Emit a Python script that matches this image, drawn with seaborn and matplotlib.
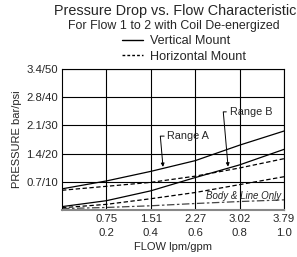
import matplotlib
matplotlib.use("Agg")
import matplotlib.pyplot as plt
import seaborn as sns
import pandas as pd
from matplotlib.lines import Line2D

sns.set_theme(style="white")
plt.rcParams['font.family'] = ['Liberation Sans', 'DejaVu Sans']

# Data (flow in gpm, pressure in psi)
flow_gpm = [0.0, 0.2, 0.4, 0.6, 0.8, 1.0]
vertical_range_a = [7.5, 10.3, 13.7, 17.5, 23.0, 28.0]
vertical_range_b = [1.2, 3.3, 6.8, 11.5, 16.0, 21.5]
horizontal_range_a = [7.0, 8.4, 9.8, 12.0, 14.9, 18.2]
horizontal_range_b = [0.8, 2.0, 4.0, 6.2, 9.0, 11.8]
body_line_only = [0.5, 0.9, 1.5, 2.3, 3.0, 3.6]

x_ticks = [0.2, 0.4, 0.6, 0.8, 1.0]
x_tick_labels = ["0.75\n0.2", "1.51\n0.4", "2.27\n0.6", "3.02\n0.8", "3.79\n1.0"]
y_ticks = [10, 20, 30, 40, 50]
y_tick_labels = ["0.7/10", "1.4/20", "2.1/30", "2.8/40", "3.4/50"]

fig = plt.figure(figsize=(2.97, 2.57), dpi=100)
ax = fig.add_axes([62/297, 1-210/257, 222/297, 141/257])

dash = (0, (3.5, 2))
series = [
    (vertical_range_a, '-', 'black', 0.9),
    (vertical_range_b, '-', 'black', 0.9),
    (horizontal_range_a, dash, 'black', 0.9),
    (horizontal_range_b, dash, 'black', 0.9),
    (body_line_only, (0, (6, 2, 2, 2)), '#444444', 0.9),
]
for vals, ls, col, lw in series:
    df = pd.DataFrame({"flow": flow_gpm, "p": vals})
    sns.lineplot(data=df, x="flow", y="p", ax=ax, color=col, linestyle=ls, lw=lw)

ax.set_xlim(0, 1.0)
ax.set_ylim(0, 50)
ax.set_xticks(x_ticks)
ax.set_xticklabels(x_tick_labels, fontsize=8.2, linespacing=1.5)
ax.set_yticks(y_ticks)
ax.set_yticklabels(y_tick_labels, fontsize=8.2)
ax.tick_params(length=0, pad=3)
ax.grid(True, color='black', lw=0.8)
for s in ['left', 'top', 'right']:
    ax.spines[s].set_color('black')
    ax.spines[s].set_linewidth(0.8)
ax.spines['bottom'].set_color('#888888')
ax.spines['bottom'].set_linewidth(1.5)
ax.set_xlabel("FLOW lpm/gpm", fontsize=8, labelpad=3)
ax.set_ylabel("PRESSURE bar/psi", fontsize=8, labelpad=3)

ax.annotate("Range A", xy=(0.455, 15.3), xytext=(0.475, 26.2), fontsize=7.8,
            ha='left', va='center',
            arrowprops=dict(arrowstyle='-|>', color='black', lw=0.7, mutation_scale=5,
                            shrinkA=0, shrinkB=0, relpos=(0, 0.5),
                            connectionstyle='angle,angleA=180,angleB=95,rad=0'))
ax.annotate("Range B", xy=(0.748, 15.4), xytext=(0.755, 34.8), fontsize=7.8,
            ha='left', va='center',
            arrowprops=dict(arrowstyle='-|>', color='black', lw=0.7, mutation_scale=5,
                            shrinkA=0, shrinkB=0, relpos=(0, 0.5),
                            connectionstyle='angle,angleA=180,angleB=95,rad=0'))
ax.text(0.985, 4.8, "Body & Line Only", fontsize=7, style='italic', ha='right', va='center')

fig.text(175/297, 1-11/257, "Pressure Drop vs. Flow Characteristic", fontsize=10.4, ha='center', va='center')
fig.text(174/297, 1-26/257, "For Flow 1 to 2 with Coil De-energized", fontsize=8.9, ha='center', va='center')

handles = [Line2D([], [], color='black', lw=1.0, ls='-'),
           Line2D([], [], color='black', lw=1.0, ls=(0, (2, 1.5)))]
fig.legend(handles, ["Vertical Mount", "Horizontal Mount"], loc='center left',
           bbox_to_anchor=(116/297, 1-49/257), frameon=False, fontsize=9.1,
           handlelength=1.6, handletextpad=0.6, labelspacing=0.3, borderpad=0)

fig.savefig("out.png", dpi=100)
